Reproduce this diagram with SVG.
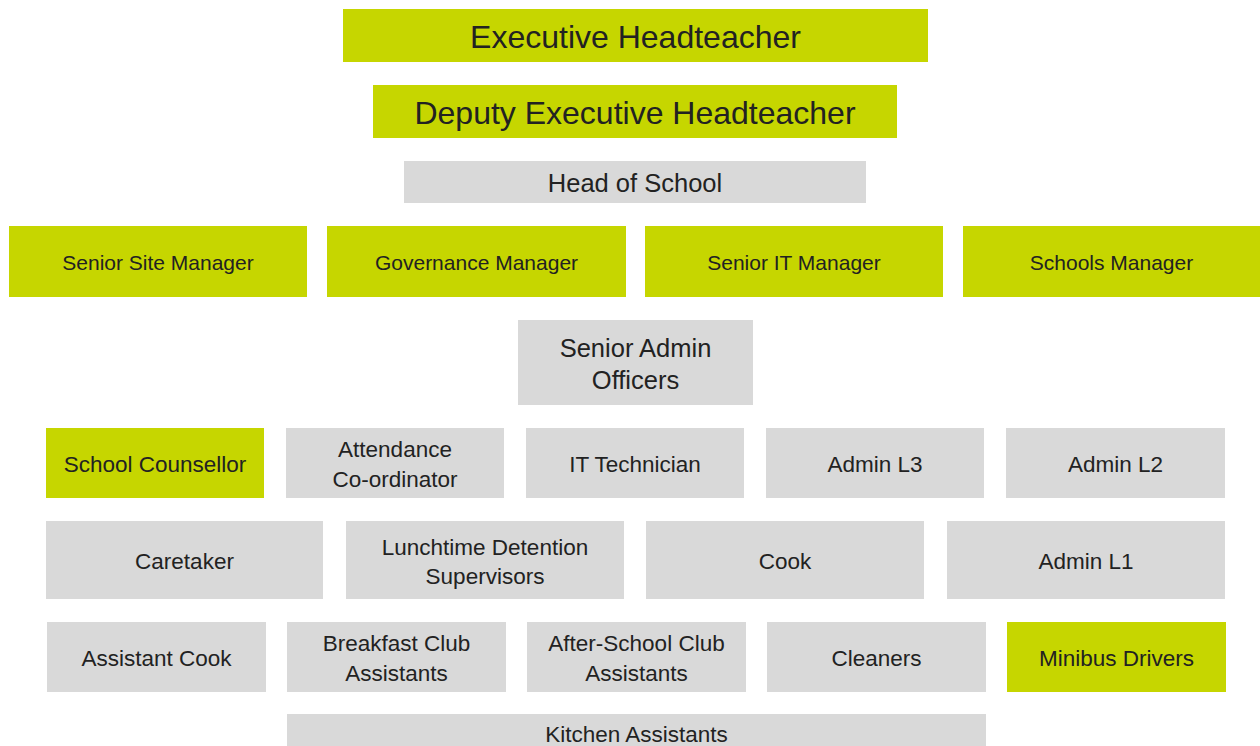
<svg xmlns="http://www.w3.org/2000/svg" width="1260" height="746" viewBox="0 0 1260 746">
<style>
.g{fill:#c6d600}
.s{fill:#d9d9d9}
text{font-family:"Liberation Sans",Arial,sans-serif;fill:#222;text-anchor:middle;dominant-baseline:central}
.xl{font-size:32px}
.l{font-size:25.5px}
.m{font-size:22.5px}
.sm{font-size:21px}
</style>
<rect width="1260" height="746" fill="#fff"/>
<g id="connectors"/>
<g id="n-exec"><rect class="g" x="343" y="9" width="585" height="53"/><text class="xl" x="635.5" y="37">Executive Headteacher</text></g>
<g id="n-deputy"><rect class="g" x="373" y="85" width="524" height="53"/><text class="xl" x="635" y="113">Deputy Executive Headteacher</text></g>
<g id="n-head"><rect class="s" x="404" y="161" width="462" height="42"/><text class="l" x="635" y="183">Head of School</text></g>
<g id="n-site"><rect class="g" x="9" y="226" width="298" height="71"/><text class="sm" x="158" y="262">Senior Site Manager</text></g>
<g id="n-gov"><rect class="g" x="327" y="226" width="299" height="71"/><text class="sm" x="476.5" y="262">Governance Manager</text></g>
<g id="n-it"><rect class="g" x="645" y="226" width="298" height="71"/><text class="sm" x="794" y="262">Senior IT Manager</text></g>
<g id="n-schools"><rect class="g" x="963" y="226" width="297" height="71"/><text class="sm" x="1111.5" y="262">Schools Manager</text></g>
<g id="n-senioradmin"><rect class="s" x="518" y="320" width="235" height="85"/><text class="l" x="635.5" y="348">Senior Admin</text><text class="l" x="635.5" y="380">Officers</text></g>
<g id="n-counsellor"><rect class="g" x="46" y="428" width="218" height="70"/><text class="m" x="155" y="464">School Counsellor</text></g>
<g id="n-attendance"><rect class="s" x="286" y="428" width="218" height="70"/><text class="m" x="395" y="449">Attendance</text><text class="m" x="395" y="479">Co-ordinator</text></g>
<g id="n-ittech"><rect class="s" x="526" y="428" width="218" height="70"/><text class="m" x="635" y="464">IT Technician</text></g>
<g id="n-l3"><rect class="s" x="766" y="428" width="218" height="70"/><text class="m" x="875" y="464">Admin L3</text></g>
<g id="n-l2"><rect class="s" x="1006" y="428" width="219" height="70"/><text class="m" x="1115.5" y="464">Admin L2</text></g>
<g id="n-caretaker"><rect class="s" x="46" y="521" width="277" height="78"/><text class="m" x="184.5" y="561">Caretaker</text></g>
<g id="n-lunch"><rect class="s" x="346" y="521" width="278" height="78"/><text class="m" x="485" y="547">Lunchtime Detention</text><text class="m" x="485" y="576">Supervisors</text></g>
<g id="n-cook"><rect class="s" x="646" y="521" width="278" height="78"/><text class="m" x="785" y="561">Cook</text></g>
<g id="n-l1"><rect class="s" x="947" y="521" width="278" height="78"/><text class="m" x="1086" y="561">Admin L1</text></g>
<g id="n-asscook"><rect class="s" x="47" y="622" width="219" height="70"/><text class="m" x="156.5" y="658">Assistant Cook</text></g>
<g id="n-breakfast"><rect class="s" x="287" y="622" width="219" height="70"/><text class="m" x="396.5" y="643">Breakfast Club</text><text class="m" x="396.5" y="673">Assistants</text></g>
<g id="n-afterschool"><rect class="s" x="527" y="622" width="219" height="70"/><text class="m" x="636.5" y="643">After-School Club</text><text class="m" x="636.5" y="673">Assistants</text></g>
<g id="n-cleaners"><rect class="s" x="767" y="622" width="219" height="70"/><text class="m" x="876.5" y="658">Cleaners</text></g>
<g id="n-minibus"><rect class="g" x="1007" y="622" width="219" height="70"/><text class="m" x="1116.5" y="658">Minibus Drivers</text></g>
<g id="n-kitchen"><rect class="s" x="287" y="714" width="699" height="40"/><text class="m" x="636.5" y="734">Kitchen Assistants</text></g>
</svg>
